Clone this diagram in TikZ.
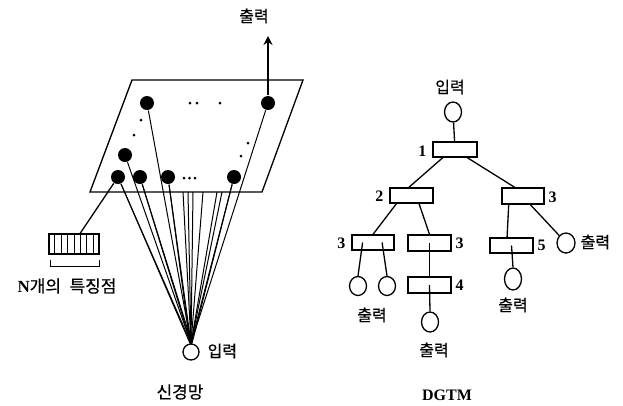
\documentclass[tikz,border=0pt]{standalone}
\usepackage{fontspec}
\setmainfont{Liberation Serif}
\newfontfamily\kr[FakeBold=0.5]{Noto Sans CJK KR}
\usetikzlibrary{arrows.meta,calc,shapes.geometric}

\begin{document}
\begin{tikzpicture}[x=1pt,y=-1pt,line width=1.3pt,
  kor/.style={font=\kr\fontsize{16}{16}\selectfont, inner sep=0pt},
  korcap/.style={font=\kr\fontsize{17}{17}\selectfont, inner sep=0pt},
  num/.style={font=\fontsize{16}{16}\selectfont\bfseries, inner sep=0pt},
  plaintext/.style={inner sep=0pt},
  neuron/.style={circle, fill=black, minimum size=14pt, inner sep=0pt},
  tinydot/.style={circle, fill=black, minimum size=3pt, inner sep=0pt},
  unitbox/.style={draw, minimum width=43pt, minimum height=15pt, inner sep=0pt},
  leaf/.style={draw, ellipse, minimum width=17pt, minimum height=20pt, inner sep=0pt},
]
\fill[white] (0,0) rectangle (623,405);
\useasboundingbox (0,0) rectangle (623,405);

%% ---------------- neural network ----------------
% feature plane
\draw (132,80) -- (303,80) -- (262,192) -- (90,192) -- cycle;

% neurons on the plane
\node[neuron] (nA) at (147,103) {};
\node[neuron] (nB) at (268,103) {};
\node[neuron] (nC) at (125,155) {};
\node[neuron] (nD) at (118,177) {};
\node[neuron] (nE) at (140,177) {};
\node[neuron] (nF) at (168,177) {};
\node[neuron] (nG) at (234,177) {};

% ellipsis dots
\node[tinydot] (t1) at (190,103) {};
\node[tinydot] (t2) at (197,103) {};
\node[tinydot] (t3) at (220,103) {};
\node[tinydot] (t4) at (141,120) {};
\node[tinydot] (t5) at (134,135) {};
\node[tinydot] (t6) at (248,143) {};
\node[tinydot] (t7) at (241,156) {};
\node[tinydot] (t8) at (184,178) {};
\node[tinydot] (t9) at (189.5,178) {};
\node[tinydot] (t10) at (195,178) {};

% input
\node[draw, circle, minimum size=16pt, inner sep=0pt] (inL) at (191,352) {};
\node[kor, anchor=west] (inLtxt) at (207,351) {입력};

% output
\coordinate (outtip) at (268,36);
\draw[-{Stealth[length=9pt,width=9pt,inset=3pt]}] (nB) -- (outtip);
\node[kor] (outL) at (254,16) {출력};

% hidden units along the lower edge
\coordinate (h1) at (183,192);
\coordinate (h2) at (188,192);
\coordinate (h3) at (193,192);
\coordinate (h4) at (203,192);
\coordinate (h5) at (217,192);
\coordinate (h6) at (222,192);

% fan of connections to the input
\foreach \n in {nA,nB,nC,nD,nE,nF,nG}
  \draw[line width=1pt] (\n) -- (inL.north);
\draw[line width=1pt] (nD) -- ([xshift=-1pt]inL.north);
\draw[line width=1pt] (nE) -- ([xshift=1pt]inL.north);
\draw[line width=1pt] (nF) -- ([xshift=-1pt]inL.north);
\draw[line width=1pt] (nG) -- ([xshift=1pt]inL.north);
\foreach \h in {h1,h2,h3,h4,h5,h6}
  \draw[line width=1pt] (\h) -- (inL.north);

% feature vector
\node[draw, minimum width=50pt, minimum height=20pt, inner sep=0pt] (fbox) at (74,244) {};
\foreach \i in {1,...,7}
  \draw[line width=1pt] ($(fbox.north west)!\i/8!(fbox.north east)$) -- ($(fbox.south west)!\i/8!(fbox.south east)$);
\draw (nD) -- ($(fbox.north west)!0.62!(fbox.north east)$);
\draw ($(fbox.south west)+(2,5)$) -- ++(0,7) -- ($(fbox.south east)+(0,12)$) -- ++(0,-7);
\node[plaintext, font=\fontsize{17}{17}\selectfont\bfseries] (flab) at (67,286)
  {N{\kr\fontsize{17}{17}\selectfont\mdseries 개의\hspace{0.5em}특징점}};

\node[korcap] (capL) at (180,392) {신경망};

%% ---------------- DGTM ----------------
\node[kor] (inR) at (450,87) {입력};
\node[leaf] (c0) at (453,112) {};

\node[unitbox, minimum width=44pt] (b1) at (455,149.5) {};
\node[num, anchor=east] (l1) at (427,151) {1};
\node[unitbox] (b2) at (411.5,195.5) {};
\node[num, anchor=east] (l2) at (384,196) {2};
\node[unitbox, minimum width=42pt, minimum height=16pt] (b3) at (523,196) {};
\node[num, anchor=west] (l3) at (548,197) {3};
\node[unitbox, minimum width=42pt] (b3L) at (373,242.5) {};
\node[num, anchor=east] (l3L) at (346,243) {3};
\node[unitbox, minimum height=16pt] (b3M) at (429.5,243) {};
\node[num, anchor=west] (l3M) at (455,243) {3};
\node[unitbox, minimum height=16pt] (b4) at (429.5,285) {};
\node[num, anchor=west] (l4) at (455,285) {4};
\node[unitbox] (b5) at (511.5,245.5) {};
\node[num, anchor=west] (l5) at (537,245) {5};

\node[leaf, minimum height=19pt] (cL1) at (358,286) {};
\node[leaf, minimum height=19pt] (cL2) at (387,286) {};
\node[leaf] (c4) at (430,322) {};
\node[leaf, minimum height=22pt] (c5) at (513,279) {};
\node[leaf, minimum width=18pt] (cR) at (566,243) {};

\node[kor] (oL) at (372,315) {출력};
\node[kor] (o4) at (434,350) {출력};
\node[kor] (o5) at (513,305) {출력};
\node[kor, anchor=west] (oR) at (580,242) {출력};

\draw (c0) -- (b1);
\draw ($(b1.south west)!0.23!(b1.south east)$) -- ($(b2.north west)!0.44!(b2.north east)$);
\draw ($(b1.south west)!0.77!(b1.south east)$) -- ($(b3.north west)!0.31!(b3.north east)$);
\draw ($(b2.south west)!0.16!(b2.south east)$) -- (b3L.north);
\draw ($(b2.south west)!0.67!(b2.south east)$) -- (b3M.north);
\draw (b3M.center) -- (b4.north);
\draw (b4.center) -- (c4.north);
\draw ($(b3L.west)!0.26!(b3L.east)$) -- (cL1.north);
\draw ($(b3L.west)!0.71!(b3L.east)$) -- (cL2.north);
\draw ($(b3.south west)!0.17!(b3.south east)$) -- ($(b5.north west)!0.4!(b5.north east)$);
\draw ($(b3.south west)!0.67!(b3.south east)$) -- (cR.north west);
\draw (b5.center) -- (c5.north);

\node[plaintext, font=\fontsize{16}{16}\selectfont\bfseries] (capR) at (447,395) {DGTM};
\end{tikzpicture}
\end{document}
